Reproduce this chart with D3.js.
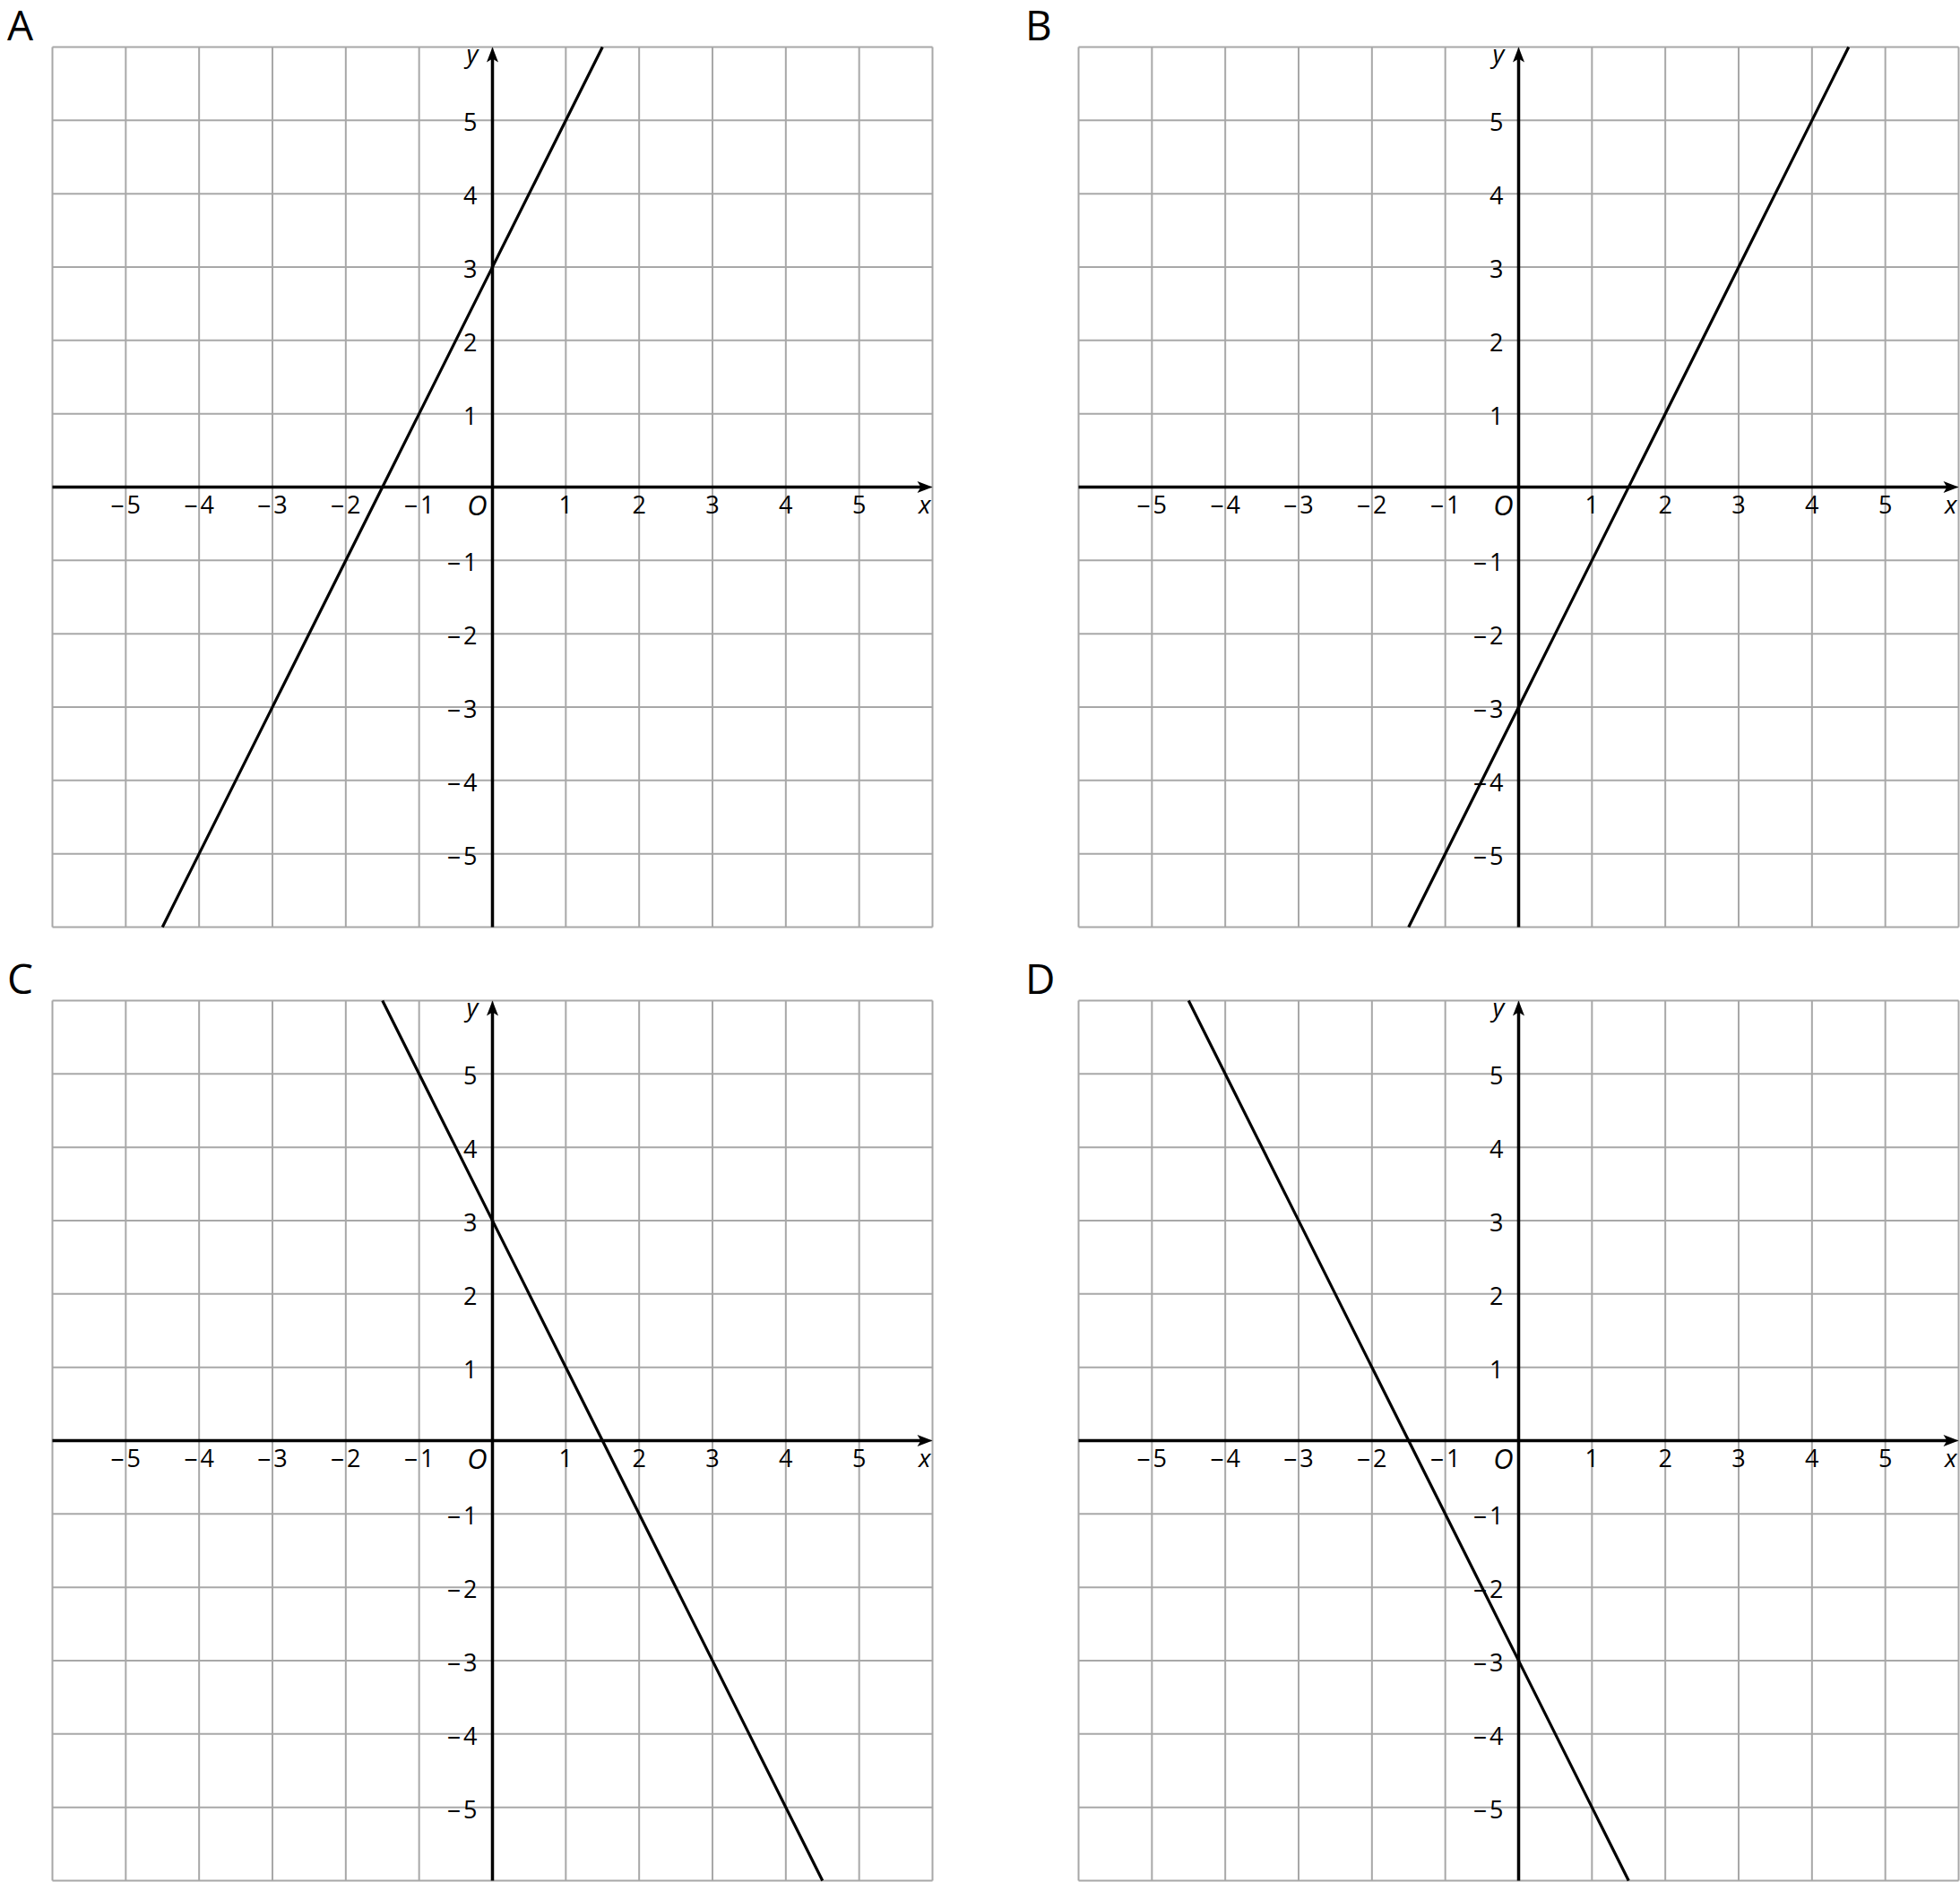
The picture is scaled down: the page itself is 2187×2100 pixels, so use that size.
<!DOCTYPE html>
<html>
<head>
<meta charset="utf-8">
<script src="https://cdn.jsdelivr.net/npm/d3@7"></script>
<style>
  body { margin: 0; background: #fff; }
  text { font-family: "Open Sans", sans-serif; }
</style>
</head>
<body>
<svg id="chart"></svg>
<script>
// four graphs, each a line y = m x + b
const panelNames = ["A", "B", "C", "D"];
const slopes = [2, 2, -2, -2];
const intercepts = [3, -3, 3, -3];

const xTicks = [-5, -4, -3, -2, -1, 1, 2, 3, 4, 5];
const yTicks = [-5, -4, -3, -2, -1, 1, 2, 3, 4, 5];
const gridValues = d3.range(-6, 7);
const domain = [-6, 6];

const W = 2187, H = 2100;
const size = 982;
const offsets = [[58.5, 52.5], [1203.5, 52.5], [58.5, 1116.5], [1203.5, 1116.5]];
const labelX = [8, 1144, 8, 1144];

const svg = d3.select("#chart").attr("width", W).attr("height", H);

const x = d3.scaleLinear().domain(domain).range([0, size]);
const y = d3.scaleLinear().domain(domain).range([size, 0]);

// negative numbers get a long dash and a small gap, like the original
function tickText(sel) {
    sel.each(function(d) {
        const t = d3.select(this);
        if (d < 0) {
            t.append("tspan").attr("font-size", 30).text("\u2013");
            t.append("tspan").attr("dx", 3).text(Math.abs(d));
        } else {
            t.text(d);
        }
    });
}

panelNames.forEach((name, i) => {
    const [ox, oy] = offsets[i];

    svg.append("text")
        .attr("x", labelX[i])
        .attr("y", oy - 7.5)
        .attr("font-size", 46)
        .attr("fill", "#000")
        .text(name);

    const g = svg.append("g").attr("transform", `translate(${ox}, ${oy})`);

    // grid
    g.selectAll("line.vgrid")
        .data(gridValues)
        .enter()
        .append("line")
        .attr("class", "vgrid")
        .attr("x1", d => x(d))
        .attr("x2", d => x(d))
        .attr("y1", y(6))
        .attr("y2", y(-6))
        .attr("stroke", "#a8a8a8")
        .attr("stroke-width", 2);

    g.selectAll("line.hgrid")
        .data(gridValues)
        .enter()
        .append("line")
        .attr("class", "hgrid")
        .attr("x1", x(-6))
        .attr("x2", x(6))
        .attr("y1", d => y(d))
        .attr("y2", d => y(d))
        .attr("stroke", "#a8a8a8")
        .attr("stroke-width", 2);

    // axes
    g.append("line")
        .attr("x1", x(-6)).attr("x2", x(6) - 10)
        .attr("y1", y(0)).attr("y2", y(0))
        .attr("stroke", "#000").attr("stroke-width", 3.5);
    g.append("line")
        .attr("x1", x(0)).attr("x2", x(0))
        .attr("y1", y(-6)).attr("y2", y(6) + 10)
        .attr("stroke", "#000").attr("stroke-width", 3.5);

    // arrowheads
    const ax = x(6), ay = y(0);
    g.append("path")
        .attr("d", `M${ax},${ay} L${ax - 17},${ay - 6.5} L${ax - 13},${ay} L${ax - 17},${ay + 6.5} Z`)
        .attr("fill", "#000");
    const bx = x(0), by = y(6);
    g.append("path")
        .attr("d", `M${bx},${by} L${bx - 6.5},${by + 17} L${bx},${by + 13} L${bx + 6.5},${by + 17} Z`)
        .attr("fill", "#000");

    // tick labels
    g.selectAll("text.xtick")
        .data(xTicks)
        .enter()
        .append("text")
        .attr("class", "xtick")
        .attr("x", d => x(d))
        .attr("y", y(0) + 29)
        .attr("text-anchor", "middle")
        .attr("font-size", 27)
        .call(tickText);

    g.selectAll("text.ytick")
        .data(yTicks)
        .enter()
        .append("text")
        .attr("class", "ytick")
        .attr("x", x(0) - 17)
        .attr("y", d => y(d) + 12)
        .attr("text-anchor", "end")
        .attr("font-size", 27)
        .call(tickText);

    g.append("text")
        .attr("x", x(0) - 6)
        .attr("y", y(0) + 31.5)
        .attr("text-anchor", "end")
        .attr("font-size", 31)
        .attr("font-style", "italic")
        .attr("font-family", "DejaVu Serif")
        .text("O");

    g.append("text")
        .attr("x", x(6) - 2)
        .attr("y", y(0) + 29)
        .attr("text-anchor", "end")
        .attr("font-size", 28)
        .attr("font-style", "italic")
        .text("x");

    g.append("text")
        .attr("x", x(0) - 16)
        .attr("y", y(6) + 17)
        .attr("text-anchor", "end")
        .attr("font-size", 28)
        .attr("font-style", "italic")
        .text("y");

    // the line, clipped to the square grid
    const m = slopes[i], b = intercepts[i];
    const ends = [-6, 6].map(v => (v - b) / m).sort(d3.ascending)
        .map(xv => Math.max(-6, Math.min(6, xv)));
    const pts = ends.map(xv => [xv, m * xv + b]);

    g.append("path")
        .datum(pts)
        .attr("d", d3.line().x(d => x(d[0])).y(d => y(d[1])))
        .attr("fill", "none")
        .attr("stroke", "#000")
        .attr("stroke-width", 3.2);
});
</script>
</body>
</html>
